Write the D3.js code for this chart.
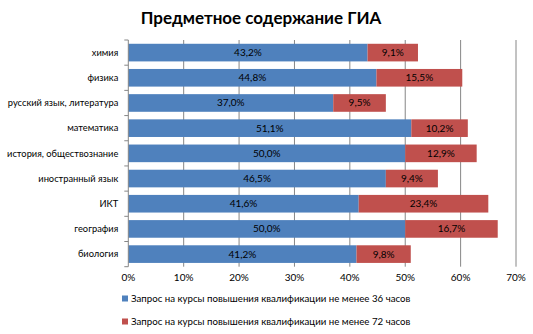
<!DOCTYPE html>
<html><head><meta charset="utf-8">
<script src="https://cdn.jsdelivr.net/npm/d3@7"></script>
<style>
body{margin:0;background:#fff;}
svg{display:block;font-family:Lato, "Open Sans", sans-serif;}
</style></head>
<body><svg id="c" width="533" height="334"></svg>
<script>
const categories = ["химия","физика","русский язык, литература","математика","история, обществознание","иностранный язык","ИКТ","география","биология"];
const series36 = [43.2,44.8,37.0,51.1,50.0,46.5,41.6,50.0,41.2];
const series72 = [9.1,15.5,9.5,10.2,12.9,9.4,23.4,16.7,9.8];
const xTicks = [0,10,20,30,40,50,60,70];
const seriesNames = ["Запрос на курсы повышения квалификации не менее 36 часов","Запрос на курсы повышения квалификации не менее 72 часов"];
const colors = ["#4F81BD","#C0504D"];
const title = "Предметное содержание ГИА";

(function(){
const svg = d3.select("#c");
const pL = 128.3, pR = 516, pT = 40, pB = 266.7;
const x = d3.scaleLinear().domain([0,70]).range([pL,pR]);
const y = d3.scaleBand().domain(categories).range([pT,pB]).paddingInner(0.3).paddingOuter(0.15);

svg.append("text").attr("x",261).attr("y",24).attr("text-anchor","middle")
  .attr("font-size","17px").attr("font-weight","bold").attr("fill","#000").text(title);

svg.append("g").selectAll("line").data(xTicks.filter(d=>d>0)).join("line")
  .attr("x1",d=>x(d)).attr("x2",d=>x(d)).attr("y1",pT).attr("y2",pB)
  .attr("stroke","#868686").attr("stroke-width",1);

const fmt = v => v.toFixed(1).replace(".",",")+"%";
const rows = categories.map((c,i)=>({c, a:series36[i], b:series72[i]}));

const g = svg.append("g");
g.selectAll("rect.a").data(rows).join("rect").attr("class","a")
  .attr("x",x(0)).attr("y",d=>y(d.c)).attr("width",d=>x(d.a)-x(0)).attr("height",y.bandwidth()).attr("fill",colors[0]);
g.selectAll("rect.b").data(rows).join("rect").attr("class","b")
  .attr("x",d=>x(d.a)).attr("y",d=>y(d.c)).attr("width",d=>x(d.a+d.b)-x(d.a)).attr("height",y.bandwidth()).attr("fill",colors[1]);

g.selectAll("text.a").data(rows).join("text").attr("class","a")
  .attr("x",d=>(x(0)+x(d.a))/2).attr("y",d=>y(d.c)+y.bandwidth()/2).attr("dy","0.35em")
  .attr("text-anchor","middle").attr("font-size","10px").attr("fill","#000").text(d=>fmt(d.a));
g.selectAll("text.b").data(rows).join("text").attr("class","b")
  .attr("x",d=>(x(d.a)+x(d.a+d.b))/2).attr("y",d=>y(d.c)+y.bandwidth()/2).attr("dy","0.35em")
  .attr("text-anchor","middle").attr("font-size","10px").attr("fill","#000").text(d=>fmt(d.b));

const ya = svg.append("g");
ya.append("line").attr("x1",pL).attr("x2",pL).attr("y1",pT).attr("y2",pB).attr("stroke","#868686");
const step = (pB-pT)/categories.length;
ya.selectAll("line.t").data(d3.range(categories.length+1)).join("line").attr("class","t")
  .attr("x1",pL-4).attr("x2",pL).attr("y1",i=>pT+i*step).attr("y2",i=>pT+i*step).attr("stroke","#868686");
ya.selectAll("text").data(categories).join("text")
  .attr("x",pL-10).attr("y",d=>y(d)+y.bandwidth()/2).attr("dy","0.35em")
  .attr("text-anchor","end").attr("font-size","9.3px").attr("fill","#000").text(d=>d);

svg.append("g").selectAll("text").data(xTicks).join("text")
  .attr("x",d=>x(d)).attr("y",281).attr("text-anchor","middle")
  .attr("font-size","10px").attr("fill","#000").text(d=>d+"%");

const lg = svg.append("g");
seriesNames.forEach((n,i)=>{
  const yy = 299 + i*23;
  lg.append("rect").attr("x",122).attr("y",yy-3.5).attr("width",6).attr("height",6).attr("fill",colors[i]);
  lg.append("text").attr("x",131).attr("y",yy).attr("dy","0.35em").attr("font-size","9.7px").attr("fill","#000").text(n);
});
})();
</script></body></html>
